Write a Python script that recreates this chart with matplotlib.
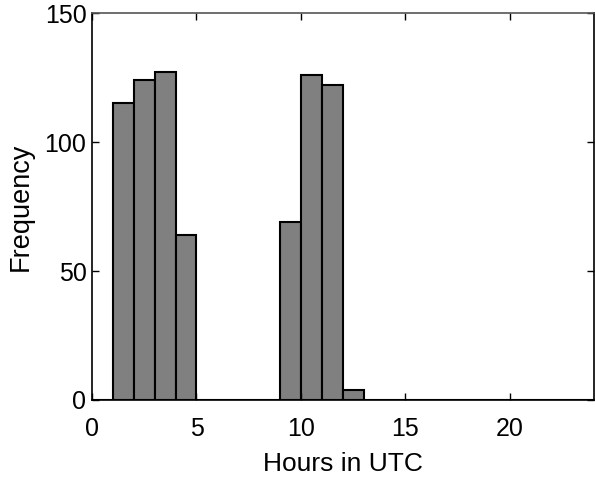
import numpy as np
import matplotlib
matplotlib.use('Agg')
import matplotlib.pyplot as plt

plt.rcParams['font.family'] = ['Liberation Sans', 'DejaVu Sans']

hours = list(range(24))
counts = [0, 115, 124, 127, 64, 0, 0, 0, 0, 69, 126, 122, 4,
          0, 0, 0, 0, 0, 0, 0, 0, 0, 0, 0]
xticks = [0, 5, 10, 15, 20]
yticks = [0, 50, 100, 150]

fig = plt.figure(figsize=(5.95, 4.8), dpi=100)
ax = fig.add_axes([0.1546, 0.1667, 0.843, 0.806])

ax.bar(hours, counts, width=1, align='edge', color='#808080',
       edgecolor='black', linewidth=1.5)

ax.set_xlim(0, 24)
ax.set_ylim(0, 150)
ax.set_xticks(xticks)
ax.set_yticks(yticks)
ax.tick_params(direction='in', length=5, width=1, labelsize=18,
               top=True, right=True, pad=4)
ax.tick_params(axis='x', pad=12)
for s in ax.spines.values():
    s.set_linewidth(1.2)
ax.spines['top'].set_color('#555555')

ax.set_xlabel('Hours in UTC', fontsize=19, labelpad=8)
ax.set_ylabel('Frequency', fontsize=19.5, labelpad=8)

fig.savefig('out.png', dpi=100)
